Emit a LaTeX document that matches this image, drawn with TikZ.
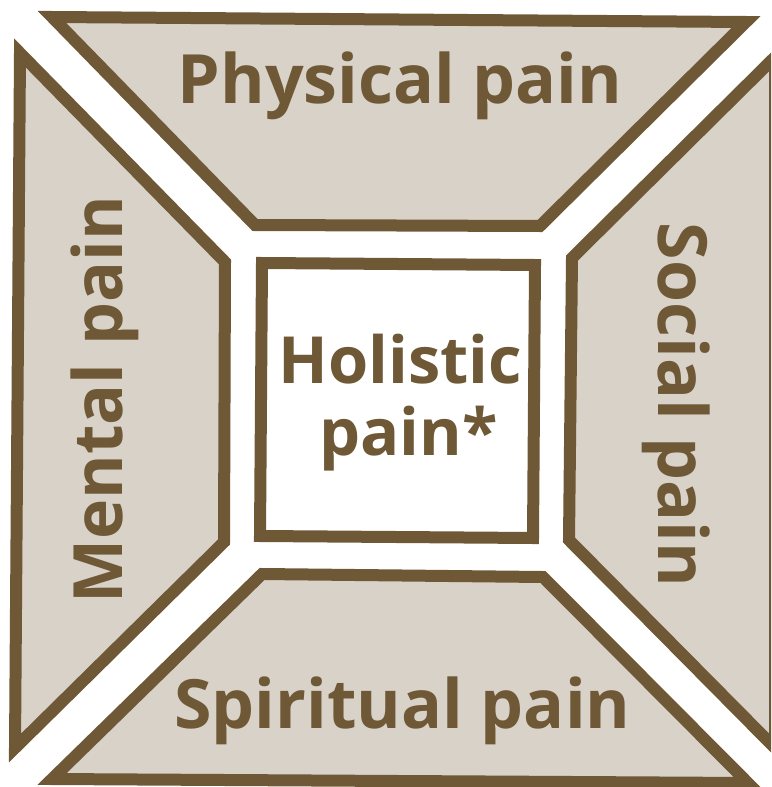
\documentclass[tikz,border=0pt]{standalone}
\usepackage{fontspec}
\newfontfamily\lblfont{Open Sans}
\definecolor{pbrown}{HTML}{6E5836}
\definecolor{pbeige}{HTML}{D8D2C8}
\tikzset{
  panel/.style={draw=pbrown, fill=pbeige, line width=12pt, line join=miter, miter limit=10},
  centerbox/.style={draw=pbrown, fill=white, line width=12pt, line join=miter},
  lbl/.style={text=pbrown, inner sep=0pt, anchor=base, align=center,
    font=\lblfont\bfseries\fontsize{68}{72}\selectfont},
  clbl/.style={lbl, font=\lblfont\bfseries\fontsize{65}{72}\selectfont}
}
\begin{document}
\begin{tikzpicture}[x=1pt,y=-1pt]
\useasboundingbox (0,0) rectangle (771,787);
\clip (0,0) rectangle (771,787);
% Physical (top)
\path[panel] (52,17) -- (746,22) -- (540,226) -- (255,225) -- cycle;
% Mental (left)
\path[panel] (20,53) -- (225,262) -- (224,542) -- (15,748) -- cycle;
% Social (right)
\path[panel] (572,258) -- (775,57) -- (775,748) -- (569,540) -- cycle;
% Spiritual (bottom)
\path[panel] (262,574) -- (543,577) -- (748,783) -- (52,779) -- cycle;
% Holistic (centre)
\path[centerbox] (262,263) -- (535,265) -- (533,538) -- (260,536) -- cycle;
\node[lbl] (physical) at (400,103) {Physical pain};
\node[lbl] (spiritual) at (402.5,728) {Spiritual pain};
\node[lbl, rotate=90] (mental) at (122,400) {Mental pain};
\node[lbl, rotate=-90] (social) at (658,405) {Social pain};
\node[clbl] (holistic) at (400.5,383) {Holistic};
\node[clbl] (holistic2) at (408.5,455) {pain*};
\end{tikzpicture}
\end{document}
